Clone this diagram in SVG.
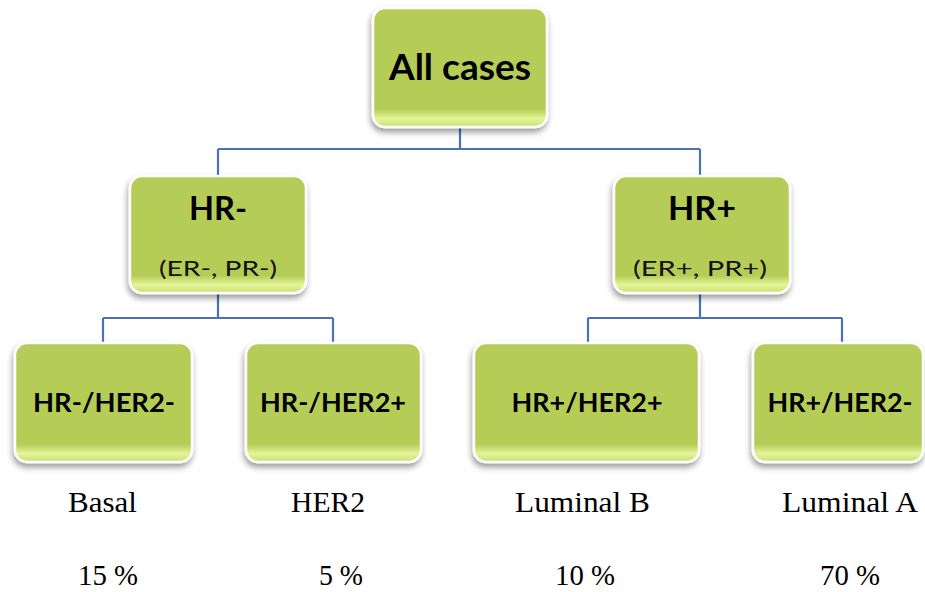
<svg xmlns="http://www.w3.org/2000/svg" width="925" height="592" viewBox="0 0 925 592">
<style>
.box{fill:url(#g);stroke:#ffffff;stroke-width:2.5;filter:url(#sh)}
.b{font-family:Lato,"Open Sans","Liberation Sans",sans-serif;font-weight:bold;fill:#000;text-anchor:middle}
.r{font-family:Lato,"Open Sans","Liberation Sans",sans-serif;fill:#111;text-anchor:middle}
.t{font-family:"Liberation Serif","Times New Roman",serif;fill:#000;text-anchor:middle;font-size:30px}
.c{stroke:#4a72b8;stroke-width:2.2;fill:none}
</style>
<defs>
<linearGradient id="g" x1="0" y1="0" x2="0" y2="1">
<stop offset="0" stop-color="#b5cd58"/>
<stop offset="0.85" stop-color="#b5cd56"/>
<stop offset="0.93" stop-color="#e4f49a"/>
<stop offset="1" stop-color="#c9e070"/>
</linearGradient>
<filter id="sh" x="-10%" y="-10%" width="125%" height="130%">
<feGaussianBlur in="SourceAlpha" stdDeviation="3"/>
<feOffset dx="-1" dy="4" result="o"/>
<feComponentTransfer><feFuncA type="linear" slope="0.4"/></feComponentTransfer>
<feMerge><feMergeNode/><feMergeNode in="SourceGraphic"/></feMerge>
</filter>
</defs>
<g id="connectors">
<path class="c" d="M460 127V149M218 149H700M218 149V176M700 149V176"/>
<path class="c" d="M218 293V318M103 318H333M103 318V343M333 318V343"/>
<path class="c" d="M700 293V318M588 318H842M588 318V343M842 318V343"/>
</g>
<g id="all-cases">
<rect class="box" x="373" y="8" width="174" height="119" rx="12"/>
<text class="b" x="460" y="80" font-size="37" textLength="142" lengthAdjust="spacingAndGlyphs">All cases</text>
</g>
<g id="hr-neg">
<rect class="box" x="130" y="176" width="176" height="117" rx="12"/>
<text class="b" x="218" y="220" font-size="32" textLength="58" lengthAdjust="spacingAndGlyphs">HR-</text>
<text class="r" x="218" y="276" font-size="22" textLength="118" lengthAdjust="spacingAndGlyphs">(ER-, PR-)</text>
</g>
<g id="hr-pos">
<rect class="box" x="614" y="176" width="176" height="117" rx="12"/>
<text class="b" x="702" y="220" font-size="32" textLength="68" lengthAdjust="spacingAndGlyphs">HR+</text>
<text class="r" x="700" y="276" font-size="22" textLength="134" lengthAdjust="spacingAndGlyphs">(ER+, PR+)</text>
</g>
<g id="basal-node">
<rect class="box" x="15" y="343" width="177" height="119" rx="12"/>
<text class="b" x="104" y="412" font-size="27" textLength="142" lengthAdjust="spacingAndGlyphs">HR-/HER2-</text>
</g>
<g id="her2-node">
<rect class="box" x="246" y="343" width="175" height="119" rx="12"/>
<text class="b" x="333" y="412" font-size="27" textLength="146" lengthAdjust="spacingAndGlyphs">HR-/HER2+</text>
</g>
<g id="lumb-node">
<rect class="box" x="474" y="343" width="225" height="119" rx="12"/>
<text class="b" x="587" y="412" font-size="27" textLength="151" lengthAdjust="spacingAndGlyphs">HR+/HER2+</text>
</g>
<g id="luma-node">
<rect class="box" x="753" y="343" width="170" height="119" rx="12"/>
<text class="b" x="840" y="412" font-size="27" textLength="145" lengthAdjust="spacingAndGlyphs">HR+/HER2-</text>
</g>
<g id="labels">
<text class="t" x="102.5" y="512" textLength="69" lengthAdjust="spacingAndGlyphs">Basal</text>
<text class="t" x="328" y="512" textLength="74" lengthAdjust="spacingAndGlyphs">HER2</text>
<text class="t" x="582.5" y="512" textLength="135" lengthAdjust="spacingAndGlyphs">Luminal B</text>
<text class="t" x="850" y="512" textLength="136" lengthAdjust="spacingAndGlyphs">Luminal A</text>
<text class="t" x="108" y="585" textLength="60" lengthAdjust="spacingAndGlyphs">15 %</text>
<text class="t" x="341" y="585" textLength="44" lengthAdjust="spacingAndGlyphs">5 %</text>
<text class="t" x="585" y="585" textLength="60" lengthAdjust="spacingAndGlyphs">10 %</text>
<text class="t" x="850" y="585" textLength="60" lengthAdjust="spacingAndGlyphs">70 %</text>
</g>
</svg>
